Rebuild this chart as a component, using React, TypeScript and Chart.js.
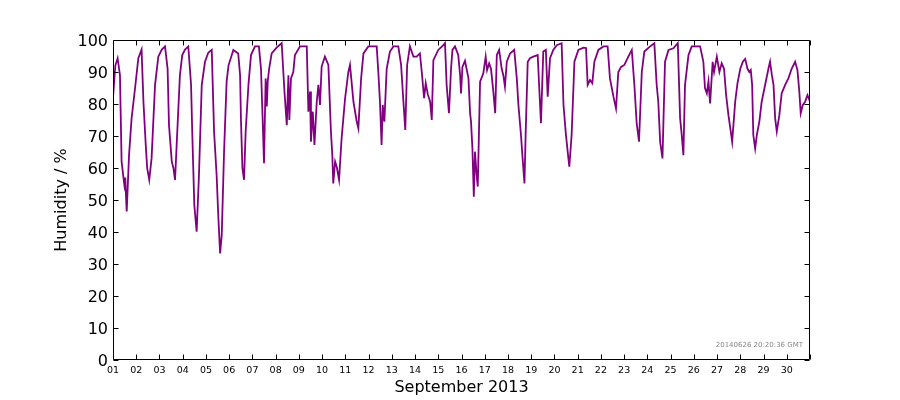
import React, { useEffect, useRef } from "react";
import { Chart, registerables } from "chart.js";

Chart.register(...registerables);

// time in days since 2013-09-01 00:00
const days: number[] = [
  0, 0.1, 0.2, 0.3, 0.37, 0.45, 0.49, 0.53, 0.56, 0.59, 0.69, 0.8, 0.95,
  1.09, 1.23, 1.31, 1.41, 1.47, 1.56, 1.66, 1.81, 1.95,
  2.1, 2.24, 2.35, 2.41, 2.53, 2.6, 2.67, 2.74, 2.88, 2.98,
  3.1, 3.24, 3.36, 3.41, 3.5, 3.6, 3.7, 3.82, 3.96,
  4.1, 4.25, 4.35, 4.46, 4.53, 4.61, 4.68, 4.78, 4.89, 4.97,
  5.18, 5.39, 5.47, 5.51, 5.57, 5.64, 5.71, 5.83, 5.94,
  6.11, 6.28, 6.37, 6.44, 6.5, 6.57, 6.62, 6.66, 6.72, 6.83,
  7.04, 7.26, 7.38, 7.48, 7.55, 7.59, 7.66, 7.76, 7.83,
  8.05, 8.34, 8.41, 8.48, 8.52, 8.6, 8.67, 8.77, 8.84, 8.91, 8.98,
  9.12, 9.27, 9.38, 9.44, 9.48, 9.56, 9.63, 9.73, 9.84, 9.99,
  10.13, 10.2, 10.35, 10.49, 10.56, 10.68, 10.78, 10.99,
  11.35, 11.42, 11.49, 11.56, 11.61, 11.68, 11.78, 11.92,
  12.07, 12.28, 12.4, 12.5, 12.58, 12.66, 12.78, 12.93,
  13.07, 13.21, 13.29, 13.39, 13.46, 13.55, 13.65, 13.72, 13.79,
  14.0, 14.22, 14.29, 14.36, 14.46, 14.55, 14.61, 14.72, 14.86, 14.94, 14.98,
  15.04, 15.15, 15.3, 15.37, 15.41, 15.47, 15.53, 15.58, 15.65, 15.7, 15.8, 15.94,
  16.04, 16.1, 16.19, 16.27, 16.37, 16.45, 16.52, 16.62, 16.73, 16.8, 16.87, 16.95,
  17.09, 17.27, 17.38, 17.45, 17.56, 17.62, 17.71, 17.76, 17.85, 17.95,
  18.09, 18.28, 18.34, 18.42, 18.52, 18.63, 18.71, 18.81, 18.95,
  19.1, 19.31, 19.39, 19.49, 19.57, 19.64, 19.74, 19.86,
  20.03, 20.25, 20.36, 20.43, 20.53, 20.63, 20.72, 20.89,
  21.11, 21.29, 21.39, 21.54, 21.65, 21.75, 21.87,
  22.01, 22.18, 22.33, 22.44, 22.54, 22.64, 22.76, 22.87,
  23.12, 23.3, 23.4, 23.47, 23.55, 23.65, 23.76, 23.91,
  24.12, 24.31, 24.41, 24.48, 24.55, 24.62, 24.77, 24.91,
  25.27, 25.41, 25.48, 25.56, 25.63, 25.7, 25.81, 25.87, 25.99,
  26.1, 26.2, 26.3, 26.39, 26.49, 26.59, 26.65, 26.78, 26.88,
  27.0, 27.11, 27.21, 27.31, 27.39, 27.45, 27.51, 27.56, 27.64, 27.71, 27.82, 27.92,
  28.07, 28.21, 28.28, 28.36, 28.43, 28.5, 28.57, 28.68, 28.78, 28.93,
  29.07, 29.21, 29.36, 29.46, 29.54, 29.6, 29.69, 29.79, 29.89, 30.0,
];

// relative humidity, %
const humidity: number[] = [
  82, 92, 94.3, 89, 62, 57, 54.7, 57, 51, 46.4, 64, 75.5, 85,
  94.3, 97, 80.7, 67.2, 60, 56.3, 63, 86, 94.8,
  97, 98, 91, 73.4, 62, 60, 56.3, 67.2, 89, 95.3,
  97, 98, 86, 71.4, 48.4, 40.1, 57.8, 86, 93.2,
  96, 96.9, 71.4, 57.8, 45.3, 33.3, 39, 65, 87, 92,
  96.9, 95.8, 89, 74.5, 60, 56.3, 71.4, 86, 95.3,
  98, 98, 91, 75.5, 61.5, 88, 79.2, 87, 91, 95.8,
  97.6, 99, 83.9, 73.4, 89, 75, 88, 90, 95.3,
  98, 98, 77.6, 83.9, 68.2, 77.6, 67.2, 80.7, 86, 79.7, 91.7,
  94.8, 92.2, 71.4, 64, 55.2, 62, 60.4, 56.3, 69.3, 81.8,
  90, 92.2, 80.7, 74.5, 72.4, 88, 95.8, 98,
  98, 90, 80.7, 67.2, 79.7, 74.5, 91, 96.4,
  98, 98, 92.2, 80.7, 71.9, 92.2, 98, 94.8,
  94.8, 95.8, 90, 81.8, 86.5, 83, 80.7, 75, 93.7,
  96.9, 98.4, 99, 86, 77.1, 91, 96.9, 98, 95.3, 89, 83.3,
  91.6, 93.5, 88, 77.1, 74.5, 66.1, 51, 65.1, 57.8, 54.2, 87, 89.6,
  94.8, 90.6, 92.7, 91, 83.9, 77.1, 95.3, 96.9, 91, 89, 85.4, 93.2,
  95.8, 96.9, 88, 79.7, 70.3, 64, 55.2, 70.3, 93.2, 94.3,
  94.8, 95.3, 86, 74, 96.4, 96.9, 82.3, 94.3, 96.9,
  98.4, 99, 79.7, 70.8, 65.1, 60.4, 70.3, 93.2,
  96.9, 97.6, 97.5, 86, 87.5, 86.5, 93.2, 96.9,
  98, 98, 88, 82.3, 78.6, 90, 91.6,
  92.2, 94.8, 96.9, 86, 74, 68.2, 90, 96.4,
  98, 99, 86, 80.7, 68.2, 63, 93.2, 96.9,
  97.4, 99, 75.5, 70.3, 64, 86, 95.3, 98,
  98, 93.2, 85, 83.3, 87, 80.2, 93.2, 90, 94.8,
  90, 92.7, 91, 82.8, 76.5, 71.4, 68.2, 80.7, 86.5,
  91, 93.2, 94.1, 91, 90, 90.6, 86, 70.3, 66.1, 70.3, 74.5, 80.7,
  86, 91, 93.2, 89, 86, 75.5, 71.4, 76.5, 83.3, 86,
  88, 91, 93.2, 90.6, 83.9, 77.1, 79.7, 80.7, 82.8, 80.7,
];

const dayLabels: string[] = Array.from({ length: 30 }, (_, i) =>
  String(i + 1).padStart(2, "0")
);
const xTitle = "September 2013";
const yTitle = "Humidity / %";
const stamp = "20140626 20:20:36 GMT";

const FONT = "'DejaVu Sans', sans-serif";

const framePlugin = {
  id: "frame",
  afterDraw(chart: any) {
    const { ctx, chartArea } = chart;
    const { left, right, top, bottom } = chartArea;
    const xs = chart.scales.x;
    const ys = chart.scales.y;
    ctx.save();
    ctx.strokeStyle = "#000";
    ctx.lineWidth = 1;
    const L = Math.round(left) + 0.5;
    const R = Math.round(right) - 0.5;
    const T = Math.round(top) + 0.5;
    const B = Math.round(bottom) - 0.5;
    ctx.beginPath();
    ctx.rect(L, T, R - L, B - T);
    ctx.stroke();
    const tl = 5;
    ctx.beginPath();
    xs.ticks.forEach((t: any) => {
      const px = Math.round(xs.getPixelForValue(t.value)) + 0.5;
      ctx.moveTo(px, B);
      ctx.lineTo(px, B - tl);
      ctx.moveTo(px, T);
      ctx.lineTo(px, T + tl);
    });
    ys.ticks.forEach((t: any) => {
      const py = Math.round(ys.getPixelForValue(t.value)) + 0.5;
      ctx.moveTo(L, py);
      ctx.lineTo(L + tl, py);
      ctx.moveTo(R, py);
      ctx.lineTo(R - tl, py);
    });
    ctx.stroke();

    ctx.fillStyle = "#000";
    ctx.font = `16px ${FONT}`;
    ctx.textAlign = "center";
    ctx.textBaseline = "middle";
    ctx.fillText(xTitle, (left + right) / 2, 388);
    ctx.save();
    ctx.translate(62, (top + bottom) / 2);
    ctx.rotate(-Math.PI / 2);
    ctx.fillText(yTitle, 0, 0);
    ctx.restore();

    ctx.fillStyle = "#888";
    ctx.font = `7px ${FONT}`;
    ctx.textAlign = "right";
    ctx.textBaseline = "alphabetic";
    ctx.fillText(stamp, right - 7, bottom - 13);
    ctx.restore();
  },
};

export default function App() {
  const ref = useRef<HTMLCanvasElement | null>(null);
  useEffect(() => {
    document.body.style.margin = "0";
    const canvas = ref.current!;
    const chart = new Chart(canvas, {
      type: "line",
      data: {
        datasets: [
          {
            data: days.map((d, i) => ({ x: d, y: humidity[i] })),
            borderColor: "#800080",
            borderWidth: 1.8,
            pointRadius: 0,
            tension: 0,
            fill: false,
          },
        ],
      },
      options: {
        animation: false,
        responsive: false,
        maintainAspectRatio: false,
        layout: { padding: { left: 0, right: 90, top: 40, bottom: 0 } },
        plugins: { legend: { display: false }, tooltip: { enabled: false } },
        scales: {
          x: {
            type: "linear",
            min: 0,
            max: 30,
            grid: { display: false, drawTicks: false },
            border: { display: false },
            afterFit: (s: any) => {
              s.height = 40;
            },
            afterBuildTicks: (s: any) => {
              s.ticks = Array.from({ length: 31 }, (_, i) => ({ value: i }));
            },
            ticks: {
              autoSkip: false,
              maxRotation: 0,
              minRotation: 0,
              padding: 5,
              color: "#000",
              font: { family: FONT, size: 9.5 },
              callback: (v: any) => (v < 30 ? dayLabels[v] : ""),
            },
          },
          y: {
            min: 0,
            max: 100,
            grid: { display: false, drawTicks: false },
            border: { display: false },
            afterFit: (s: any) => {
              s.width = 113;
            },
            ticks: {
              stepSize: 10,
              padding: 5,
              labelOffset: 2,
              color: "#000",
              font: { family: FONT, size: 16 },
            },
          },
        },
      },
      plugins: [framePlugin],
    });
    return () => chart.destroy();
  }, []);
  return (
    <div style={{ position: "absolute", left: 0, top: 0, width: 900, height: 400, background: "#fff" }}>
      <canvas ref={ref} width={900} height={400} style={{ width: 900, height: 400 }} />
    </div>
  );
}
